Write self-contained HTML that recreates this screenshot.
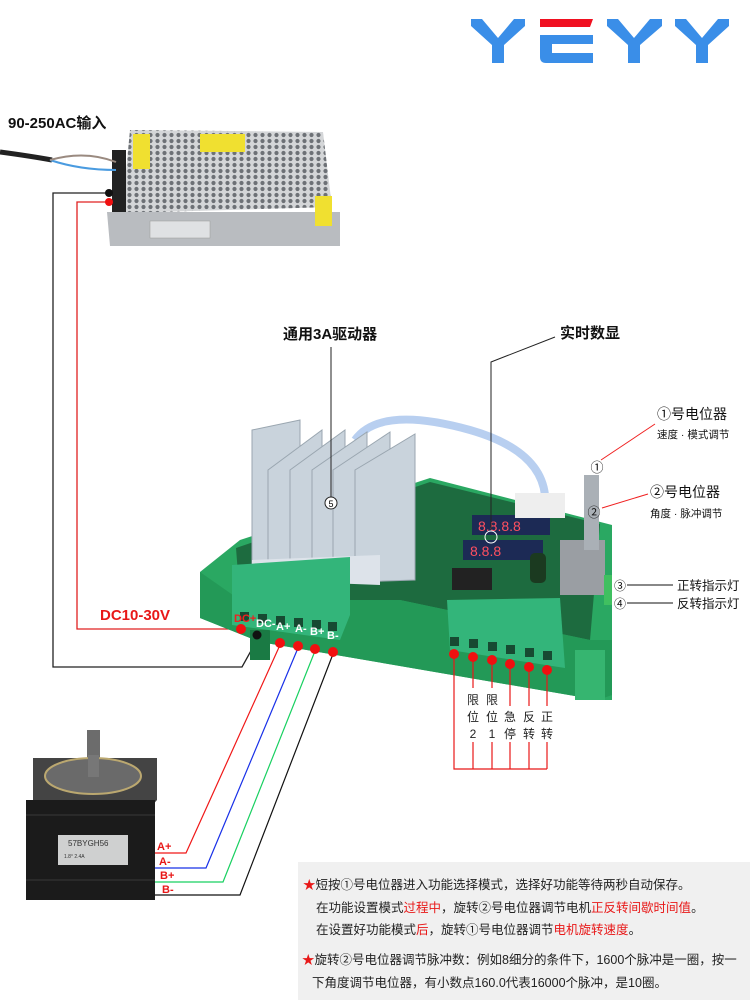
<!DOCTYPE html>
<html><head><meta charset="utf-8"><style>
html,body{margin:0;padding:0;background:#fff}
svg{display:block}
text{font-family:"Liberation Sans","Noto Sans CJK SC",sans-serif}
</style></head><body>
<svg width="750" height="1000" viewBox="0 0 750 1000" xmlns="http://www.w3.org/2000/svg">
<defs>
<pattern id="holes" width="7" height="6" patternUnits="userSpaceOnUse">
<rect width="7" height="6" fill="#d4d6d8"/>
<circle cx="3.5" cy="3" r="2.1" fill="#6d7176"/>
</pattern>
</defs>
<!-- Logo -->
<g fill="#3a8ee8">
<polygon points="471,19 482,19 498,38 514,19 525,19 525,26 504,45 504,63 492,63 492,45 471,26"/>
<polygon points="607,19 618,19 634,38 650,19 662,19 662,26 640,45 640,63 628,63 628,45 607,26"/>
<polygon points="675,19 686,19 702,38 718,19 729,19 729,26 708,45 708,63 696,63 696,45 675,26"/>
<path d="M540,35 H593 V44 H552 V53 H593 V63 H546 Q540,63 540,57 Z"/>
</g>
<path d="M540,19 H593 L590,27 H540 Z" fill="#f01020"/>

<text x="8" y="128" font-size="15" font-weight="bold" fill="#111">90-250AC输入</text>

<!-- power supply -->
<polygon points="130,130 323,132 332,207 122,213" fill="url(#holes)"/>
<polygon points="107,212 340,212 340,246 110,246" fill="#b9bcc0"/>
<rect x="150" y="221" width="60" height="17" fill="#dfe1e3" stroke="#999" stroke-width="0.5"/>
<rect x="133" y="134" width="17" height="35" fill="#f0e030"/>
<rect x="200" y="134" width="45" height="18" fill="#f0e030"/>
<rect x="315" y="196" width="17" height="30" fill="#f0e030"/>
<rect x="112" y="150" width="14" height="62" fill="#222"/>
<path d="M0,152 Q30,156 52,160" stroke="#222" stroke-width="5" fill="none"/>
<path d="M50,160 Q80,170 116,170" stroke="#4a9be0" stroke-width="2" fill="none"/>
<path d="M50,160 Q85,150 116,162" stroke="#9a8a80" stroke-width="2" fill="none"/>

<polyline points="110,193 53,193 53,667 242,667 257,640" stroke="#222" stroke-width="1.3" fill="none"/>
<polyline points="110,202 77,202 77,629 241,629" stroke="#e02020" stroke-width="1.3" fill="none"/>
<circle cx="109" cy="193" r="4" fill="#111"/>
<circle cx="109" cy="202" r="4" fill="#f01010"/>
<text x="100" y="620" font-size="15" font-weight="bold" fill="#e81818">DC10-30V</text>

<!-- driver case -->
<polygon points="200,572 240,540 430,478 612,525 612,700 598,700 260,642 200,618" fill="#2aa862"/>
<polygon points="236,548 430,482 600,524 590,640 400,600 240,600" fill="#1d6b3f"/>
<polygon points="200,572 200,618 260,642 598,700 612,695 612,640 590,640 400,600 240,600" fill="#239957"/>
<rect x="250" y="630" width="20" height="30" fill="#1a7a44"/>
<rect x="575" y="650" width="30" height="50" fill="#36b570"/>
<rect x="472" y="515" width="78" height="20" fill="#1c2a55"/>
<rect x="463" y="540" width="80" height="20" fill="#1c2a55"/>
<text x="478" y="531" font-size="14" fill="#ff5060" font-family="Liberation Mono">8.8.8.8</text>
<text x="470" y="556" font-size="14" fill="#ff5060" font-family="Liberation Mono">8.8.8</text>
<rect x="452" y="568" width="40" height="22" fill="#222"/>
<rect x="530" y="553" width="16" height="30" fill="#1b3a20" rx="5"/>
<path d="M355,440 Q380,405 470,430 Q540,450 545,495" stroke="#b8cff0" stroke-width="8" fill="none"/>
<rect x="515" y="493" width="50" height="25" fill="#eeeeee"/>
<rect x="560" y="540" width="45" height="55" fill="#9a9ea3"/>
<rect x="584" y="475" width="15" height="75" fill="#aab0b6"/>
<rect x="604" y="575" width="8" height="30" fill="#40c060"/>
<g fill="#c9d3dc" stroke="#9aa6b0" stroke-width="1">
<polygon points="252,430 300,420 300,560 252,575"/>
<polygon points="268,470 322,430 322,560 268,575"/>
<polygon points="290,470 345,430 345,565 290,575"/>
<polygon points="312,470 367,432 367,568 312,578"/>
<polygon points="333,470 390,432 390,575 333,580"/>
<polygon points="355,470 415,434 415,580 355,582"/>
</g>
<polygon points="252,560 380,555 380,585 252,580" fill="#dde3ea"/>
<polygon points="232,565 350,557 350,615 340,640 232,625" fill="#33b57a"/>
<g fill="#174a32">
<rect x="240" y="612" width="9" height="9"/><rect x="258" y="614" width="9" height="9"/><rect x="276" y="616" width="9" height="9"/><rect x="294" y="618" width="9" height="9"/><rect x="312" y="620" width="9" height="9"/><rect x="328" y="622" width="9" height="9"/>
</g>
<polygon points="447,600 560,598 565,668 450,650" fill="#33b57a"/>
<g fill="#174a32">
<rect x="450" y="637" width="9" height="9"/><rect x="469" y="639" width="9" height="9"/><rect x="488" y="642" width="9" height="9"/><rect x="506" y="645" width="9" height="9"/><rect x="525" y="648" width="9" height="9"/><rect x="543" y="651" width="9" height="9"/>
</g>

<g font-size="11" font-weight="bold">
<text x="234" y="622" fill="#f02020">DC+</text>
<text x="256" y="627" fill="#fff">DC-</text>
<text x="276" y="630" fill="#fff">A+</text>
<text x="295" y="632" fill="#fff">A-</text>
<text x="310" y="635" fill="#fff">B+</text>
<text x="327" y="639" fill="#fff">B-</text>
</g>
<circle cx="241" cy="629" r="5" fill="#f01010"/>
<circle cx="257" cy="635" r="4.5" fill="#111"/>

<polyline points="280,645 186,853 152,853" stroke="#f01818" stroke-width="1.2" fill="none"/>
<polyline points="298,648 206,868 152,868" stroke="#1830e8" stroke-width="1.2" fill="none"/>
<polyline points="315,651 223,882 152,882" stroke="#18d060" stroke-width="1.2" fill="none"/>
<polyline points="333,654 240,895 152,895" stroke="#111" stroke-width="1.2" fill="none"/>
<circle cx="280" cy="643" r="5" fill="#f01010"/>
<circle cx="298" cy="646" r="5" fill="#f01010"/>
<circle cx="315" cy="649" r="5" fill="#f01010"/>
<circle cx="333" cy="652" r="5" fill="#f01010"/>
<g font-size="11" font-weight="bold" fill="#e81818">
<text x="157" y="850">A+</text><text x="159" y="865">A-</text><text x="160" y="879">B+</text><text x="162" y="893">B-</text>
</g>

<!-- motor -->
<rect x="87" y="730" width="13" height="40" fill="#6c6c6c"/>
<polygon points="33,758 157,758 157,800 150,808 33,805" fill="#444"/>
<ellipse cx="93" cy="776" rx="48" ry="18" fill="#6a6a6a" stroke="#bba870" stroke-width="2"/>
<rect x="88" y="755" width="11" height="22" fill="#777"/>
<polygon points="26,800 155,800 155,900 26,900" fill="#1b1b1b"/>
<g stroke="#3a3a3a" stroke-width="1"><line x1="26" y1="815" x2="155" y2="815"/><line x1="26" y1="880" x2="155" y2="880"/></g>
<rect x="58" y="835" width="70" height="30" fill="#cfd0d0"/>
<text x="68" y="846" font-size="8" fill="#333">57BYGH56</text>
<text x="64" y="858" font-size="5" fill="#333">1.8° 2.4A</text>

<g stroke="#e81818" stroke-width="1.2" fill="none">
<polyline points="454,654 454,769 547,769"/>
<line x1="473" y1="656" x2="473" y2="688"/><line x1="473" y1="742" x2="473" y2="769"/>
<line x1="492" y1="659" x2="492" y2="688"/><line x1="492" y1="742" x2="492" y2="769"/>
<line x1="510" y1="664" x2="510" y2="706"/><line x1="510" y1="742" x2="510" y2="769"/>
<line x1="529" y1="667" x2="529" y2="706"/><line x1="529" y1="742" x2="529" y2="769"/>
<line x1="547" y1="670" x2="547" y2="706"/><line x1="547" y1="742" x2="547" y2="769"/>
</g>
<g fill="#f01010">
<circle cx="454" cy="654" r="5"/><circle cx="473" cy="657" r="5"/><circle cx="492" cy="660" r="5"/><circle cx="510" cy="664" r="5"/><circle cx="529" cy="667" r="5"/><circle cx="547" cy="670" r="5"/>
</g>
<g font-size="12" fill="#222" text-anchor="middle">
<text x="473" y="704">限</text><text x="473" y="721">位</text><text x="473" y="738">2</text>
<text x="492" y="704">限</text><text x="492" y="721">位</text><text x="492" y="738">1</text>
<text x="510" y="721">急</text><text x="510" y="738">停</text>
<text x="529" y="721">反</text><text x="529" y="738">转</text>
<text x="547" y="721">正</text><text x="547" y="738">转</text>
</g>

<text x="283" y="339" font-size="15" font-weight="bold" fill="#111">通用3A驱动器</text>
<line x1="331" y1="347" x2="331" y2="497" stroke="#222" stroke-width="1"/>
<circle cx="331" cy="503" r="6" fill="#fff" stroke="#222"/>
<text x="331" y="507" font-size="9" text-anchor="middle">5</text>
<text x="560" y="338" font-size="15" font-weight="bold" fill="#111">实时数显</text>
<polyline points="555,337 491,362 491,530" stroke="#222" stroke-width="1" fill="none"/>
<circle cx="491" cy="537" r="6" fill="none" stroke="#fff"/>
<text x="657" y="419" font-size="14" fill="#111">①号电位器</text>
<text x="657" y="438" font-size="10.5" fill="#111">速度 · 模式调节</text>
<line x1="655" y1="424" x2="601" y2="460" stroke="#f02020" stroke-width="1"/>
<text x="597" y="472" font-size="13" text-anchor="middle" fill="#111">①</text>
<text x="650" y="497" font-size="14" fill="#111">②号电位器</text>
<text x="650" y="517" font-size="10.5" fill="#111">角度 · 脉冲调节</text>
<line x1="648" y1="494" x2="602" y2="508" stroke="#f02020" stroke-width="1"/>
<text x="594" y="517" font-size="13" text-anchor="middle" fill="#111">②</text>
<text x="620" y="590" font-size="12" text-anchor="middle" fill="#111">③</text>
<line x1="627" y1="585" x2="673" y2="585" stroke="#111"/>
<text x="677" y="590" font-size="12.5" fill="#111">正转指示灯</text>
<text x="620" y="608" font-size="12" text-anchor="middle" fill="#111">④</text>
<line x1="627" y1="603" x2="673" y2="603" stroke="#111"/>
<text x="677" y="608" font-size="12.5" fill="#111">反转指示灯</text>

<rect x="298" y="862" width="452" height="138" fill="#f0f0f0"/>
<g font-size="12.5" fill="#222">
<text x="303" y="889"><tspan fill="#e81818">★</tspan>短按①号电位器进入功能选择模式，选择好功能等待两秒自动保存。</text>
<text x="316" y="912">在功能设置模式<tspan fill="#e81818">过程中</tspan>，旋转②号电位器调节电机<tspan fill="#e81818">正反转间歇时间值</tspan>。</text>
<text x="316" y="934">在设置好功能模式<tspan fill="#e81818">后</tspan>，旋转①号电位器调节<tspan fill="#e81818">电机旋转速度</tspan>。</text>
<text x="302" y="964"><tspan fill="#e81818">★</tspan>旋转②号电位器调节脉冲数：例如8细分的条件下，1600个脉冲是一圈，按一</text>
<text x="312" y="987">下角度调节电位器，有小数点160.0代表16000个脉冲，是10圈。</text>
</g>
</svg>
</body></html>
